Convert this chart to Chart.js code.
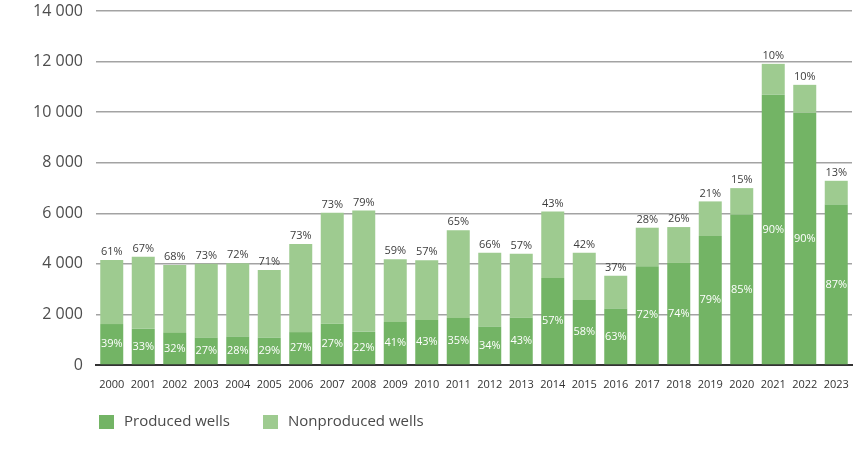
<!DOCTYPE html>
<html>
<head>
<meta charset="utf-8">
<script src="https://cdn.jsdelivr.net/npm/chart.js@4.4.1/dist/chart.umd.min.js"></script>
<style>
  html, body { margin: 0; padding: 0; background: #ffffff; }
  #wrap { width: 860px; height: 455px; position: relative; }
</style>
</head>
<body>
<div id="wrap"><canvas id="c" width="860" height="455"></canvas></div>
<script>
const years = ['2000','2001','2002','2003','2004','2005','2006','2007','2008','2009','2010','2011','2012','2013','2014','2015','2016','2017','2018','2019','2020','2021','2022','2023'];
const producedWells = [1620,1430,1270,1080,1120,1085,1300,1630,1320,1705,1780,1860,1515,1870,3440,2570,2235,3910,4035,5100,5950,10690,9980,6345];
const nonproducedWells = [2530,2850,2685,2925,2900,2670,3485,4390,4790,2475,2360,3465,2925,2530,2635,1870,1295,1520,1420,1370,1045,1220,1100,940];
const producedPct = ['39%','33%','32%','27%','28%','29%','27%','27%','22%','41%','43%','35%','34%','43%','57%','58%','63%','72%','74%','79%','85%','90%','90%','87%'];
const nonproducedPct = ['61%','67%','68%','73%','72%','71%','73%','73%','79%','59%','57%','65%','66%','57%','43%','42%','37%','28%','26%','21%','15%','10%','10%','13%'];
const yTicks = [0,2000,4000,6000,8000,10000,12000,14000];
const seriesNames = ['Produced wells','Nonproduced wells'];

const DARK = '#73b465';
const LIGHT = '#9ecb90';
const FONT = "'Open Sans', 'Noto Sans', sans-serif";

const labelPlugin = {
  id: 'pctLabels',
  afterDatasetsDraw(chart) {
    const ctx = chart.ctx;
    const m0 = chart.getDatasetMeta(0).data;
    const m1 = chart.getDatasetMeta(1).data;
    ctx.save();
    ctx.textAlign = 'center';
    ctx.textBaseline = 'middle';
    ctx.font = '500 11px ' + FONT;
    for (let i = 0; i < m0.length; i++) {
      const b0 = m0[i], b1 = m1[i];
      ctx.fillStyle = '#ffffff';
      ctx.fillText(producedPct[i], b0.x, (b0.y + b0.base) / 2);
      ctx.fillStyle = '#3d3d3d';
      ctx.fillText(nonproducedPct[i], b1.x, b1.y - 8);
    }
    ctx.restore();
  }
};

const legendPlugin = {
  id: 'customLegend',
  afterDraw(chart) {
    const ctx = chart.ctx;
    ctx.save();
    ctx.font = '15px ' + FONT;
    ctx.textBaseline = 'middle';
    ctx.textAlign = 'left';
    const items = [
      { x: 99, color: DARK, text: seriesNames[0] },
      { x: 263, color: LIGHT, text: seriesNames[1] }
    ];
    items.forEach(it => {
      ctx.fillStyle = it.color;
      ctx.fillRect(it.x, 415, 15, 14);
      ctx.fillStyle = '#4a4a4a';
      ctx.fillText(it.text, it.x + 25, 422);
    });
    ctx.restore();
  }
};

new Chart(document.getElementById('c'), {
  type: 'bar',
  data: {
    labels: years,
    datasets: [
      { label: seriesNames[0], data: producedWells, backgroundColor: DARK, borderWidth: 0 },
      { label: seriesNames[1], data: nonproducedWells, backgroundColor: LIGHT, borderWidth: 0 }
    ]
  },
  options: {
    responsive: false,
    animation: false,
    devicePixelRatio: 1,
    layout: { padding: { top: 11, right: 8, left: 0, bottom: 0 } },
    plugins: { legend: { display: false }, tooltip: { enabled: false } },
    datasets: { bar: { categoryPercentage: 1, barPercentage: 0.73 } },
    scales: {
      x: {
        stacked: true,
        grid: { display: false, drawTicks: false },
        border: { display: true, color: '#333333', width: 2 },
        ticks: { color: '#333333', font: { family: FONT, size: 11 }, padding: 13, maxRotation: 0, autoSkip: false },
        afterFit(scale) { scale.height = 90; scale.paddingLeft = 0; scale.paddingRight = 0; }
      },
      y: {
        stacked: true,
        min: 0,
        max: 14000,
        afterBuildTicks(scale) { scale.ticks = yTicks.map(v => ({ value: v })); },
        grid: { color: '#a3a3a3', lineWidth: 1.5, drawTicks: false },
        border: { display: false },
        ticks: {
          color: '#4d4d4d',
          font: { family: FONT, size: 16, weight: '500' },
          padding: 13,
          callback: v => String(v).replace(/\B(?=(\d{3})+(?!\d))/g, ' ')
        },
        afterFit(scale) { scale.width = 96; scale.paddingTop = 0; scale.paddingBottom = 0; }
      }
    }
  },
  plugins: [labelPlugin, legendPlugin]
});
</script>
</body>
</html>
